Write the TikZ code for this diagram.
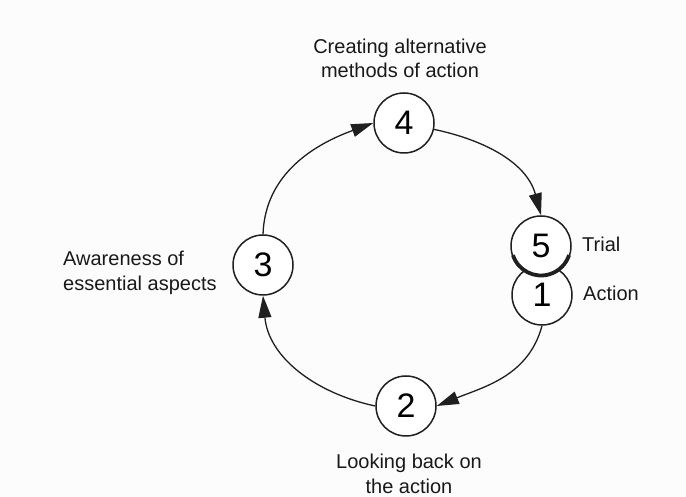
\documentclass[tikz,border=0pt]{standalone}
\usepackage{fontspec}
\setmainfont{Liberation Sans}
\usetikzlibrary{arrows.meta}
\begin{document}
\begin{tikzpicture}[x=1pt,y=1pt,
  ink/.style={draw=black!88},
  stage/.style={circle, ink, line width=1.5pt, fill=white, minimum size=60pt,
    inner sep=0pt, font=\fontsize{34}{34}\selectfont},
  flow/.style={ink, line width=1.3pt, -{Triangle[length=22pt,width=13pt]}},
  caption/.style={font=\fontsize{20}{24.5}\selectfont, text=black!90, inner sep=0pt}]
  % page
  \fill[black!1] (0,0) rectangle (686,497);
  \useasboundingbox (0,0) rectangle (686,497);

  % stages of the cycle
  \node[stage] (s1) at (542,202) {1};
  \node[stage] (s5) at (541,251) {5};
  \draw[black!88, line width=3.8pt] ([shift={(541,251)}]198:29.5) arc[start angle=198, end angle=342, radius=29.5];
  \node[stage] (s4) at (404,374) {4};
  \node[stage] (s3) at (263,232) {3};
  \node[stage] (s2) at (406,91) {2};

  % captions
  \node[caption, align=center, anchor=south] (c4) at (400,419) {Creating alternative\\methods of action};
  \node[caption, align=left, anchor=west] (c3) at (63,224) {Awareness of\\essential aspects};
  \node[caption, align=center, anchor=north] (c2) at (409,43) {Looking back on\\the action};
  \node[caption, anchor=west] (c5) at (582,253) {Trial};
  \node[caption, anchor=west] (c1) at (583,204) {Action};

  % connectors around the cycle
  \draw[flow] (s4) to[out=-12, in=105] (s5.north);
  \draw[flow] (s3.north) to[out=88, in=200] (s4.west);
  \draw[flow] (s2.west) to[out=168, in=-85] (s3.south);
  \draw[flow] (s1.south) to[out=-105, in=22] (s2.east);
\end{tikzpicture}
\end{document}
